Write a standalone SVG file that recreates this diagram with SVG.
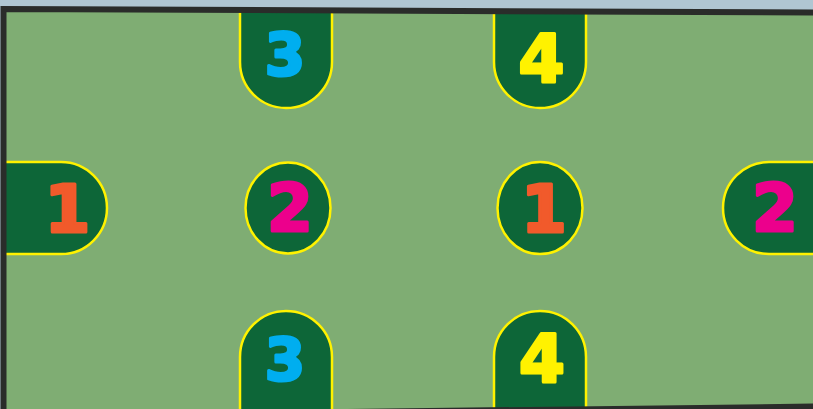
<svg xmlns="http://www.w3.org/2000/svg" width="813" height="409" viewBox="0 0 813 409">
<defs>
<clipPath id="fc"><polygon points="3.5,9 830,12.6 830,406.4 3.5,416"/></clipPath>
</defs>
<style>
.tok{fill:#0d6638;stroke:#fff200;stroke-width:2.5}
.d{font-family:"DejaVu Sans",sans-serif;font-weight:bold;text-anchor:middle;stroke-width:3;stroke-linejoin:round}
.c3{fill:#00aeef;stroke:#00aeef;font-size:58px}
.c4{fill:#fff200;stroke:#fff200;font-size:66px}
.c1{fill:#f15a2b;stroke:#f15a2b;font-size:66px}
.c2{fill:#ec008c;stroke:#ec008c;font-size:66px}
</style>
<rect x="0" y="0" width="813" height="409" fill="#b0c6d2"/>
<polygon id="field" points="3.5,9 830,12.6 830,406.4 3.5,416" fill="#7fad73"/>
<g clip-path="url(#fc)">
<g id="top3">
<path class="tok" d="M240,0 V62 A46,46 0 0 0 332,62 V0"/>
<text class="d c3" x="285" y="75">3</text>
</g>
<g id="top4">
<path class="tok" d="M494,0 V62 A46,46 0 0 0 586,62 V0"/>
<text class="d c4" x="541.5" y="82">4</text>
</g>
<g id="bottom3">
<path class="tok" d="M240,420 V357 A46,46 0 0 1 332,357 V420"/>
<text class="d c3" x="285" y="380">3</text>
</g>
<g id="bottom4">
<path class="tok" d="M494,420 V357 A46,46 0 0 1 586,357 V420"/>
<text class="d c4" x="542" y="382">4</text>
</g>
<g id="left1">
<path class="tok" d="M0,162 H61 A46,46 0 0 1 61,254 H0"/>
<text class="d c1" x="67.5" y="231.5">1</text>
</g>
<g id="mid2">
<ellipse class="tok" cx="288" cy="208" rx="42.5" ry="45.5"/>
<text class="d c2" x="290" y="230.5">2</text>
</g>
<g id="mid1">
<ellipse class="tok" cx="540" cy="208" rx="42.5" ry="46"/>
<text class="d c1" x="544" y="231.5">1</text>
</g>
<g id="right2">
<path class="tok" d="M830,162 H769 A46,46 0 0 0 769,254 H830"/>
<text class="d c2" x="775" y="230.5">2</text>
</g>
</g>
<polygon id="border" points="3.5,9 830,12.6 830,406.4 3.5,416" fill="none" stroke="#2a2c2a" stroke-width="6"/>
</svg>
